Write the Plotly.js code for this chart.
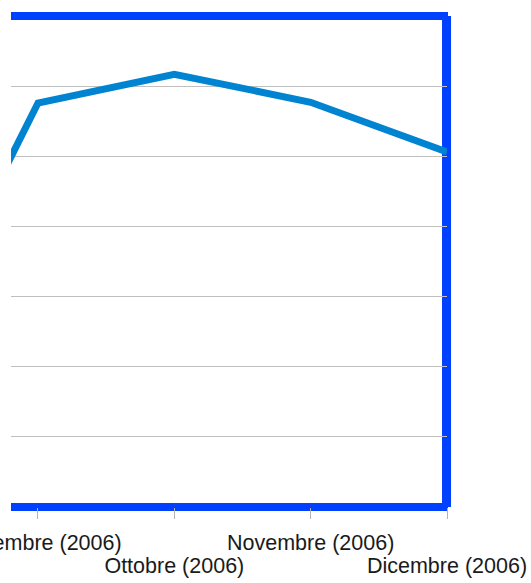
<!DOCTYPE html>
<html>
<head>
<meta charset="utf-8">
<script src="https://cdn.plot.ly/plotly-3.0.1.min.js"></script>
<style>html,body{margin:0;padding:0;background:#fff;}#chart{width:531px;height:583px;}</style>
</head>
<body>
<div id="chart"></div>
<script>
const months = ["Agosto (2006)", "Settembre (2006)", "Ottobre (2006)", "Novembre (2006)", "Dicembre (2006)"];
const values = [18.8, 57.6, 61.7, 57.7, 50.6];
const row1Labels = ["Settembre (2006)", "Novembre (2006)"];
const row2Labels = ["Agosto (2006)", "Ottobre (2006)", "Dicembre (2006)"];

const border = '#0040ff';
const font = {family: 'Liberation Sans, Arial, sans-serif', size: 21.5, color: '#1a1a1a'};
const xr = [0.802, 4];

const data = [
  {x: months, y: values, type: 'scatter', mode: 'lines', xaxis: 'x', yaxis: 'y',
   line: {color: '#0084d1', width: 7}, hoverinfo: 'skip', showlegend: false},
  {x: months, y: months.map(() => null), type: 'scatter', mode: 'lines', xaxis: 'x2', yaxis: 'y',
   hoverinfo: 'skip', showlegend: false}
];

const layout = {
  width: 531, height: 583,
  margin: {l: 11, r: 84, t: 16, b: 76},
  paper_bgcolor: '#fff', plot_bgcolor: '#fff',
  showlegend: false,
  xaxis: {type: 'category', categoryarray: months, range: xr,
    tickmode: 'array', tickvals: [months[1], months[3]], ticktext: row1Labels,
    ticks: 'outside', ticklen: 11, tickcolor: '#b3b3b3', tickwidth: 1,
    ticklabelstandoff: 5,
    tickangle: 0, tickfont: font, showgrid: false, zeroline: false, showline: false},
  xaxis2: {type: 'category', categoryarray: months, range: xr, overlaying: 'x', anchor: 'y', side: 'bottom',
    tickmode: 'array', tickvals: [months[0], months[2], months[4]], ticktext: row2Labels,
    ticks: 'outside', ticklen: 11, tickcolor: '#b3b3b3', tickwidth: 1,
    ticklabelstandoff: 28,
    tickangle: 0, tickfont: font, showgrid: false, zeroline: false, showline: false},
  yaxis: {range: [0, 70], dtick: 10, showticklabels: false, ticks: '',
    showgrid: true, gridcolor: '#c0c0c0', gridwidth: 1, zeroline: false, showline: false},
  shapes: [
    {type: 'line', xref: 'paper', yref: 'paper', x0: 0, x1: 1.0023, y0: 1, y1: 1, layer: 'below', line: {color: border, width: 8}},
    {type: 'line', xref: 'paper', yref: 'paper', x0: 0, x1: 1.0023, y0: 0, y1: 0, layer: 'below', line: {color: border, width: 8}},
    {type: 'line', xref: 'paper', yref: 'paper', x0: 0.9989, x1: 0.9989, y0: 0, y1: 1, layer: 'below', line: {color: border, width: 9}}
  ]
};

Plotly.newPlot('chart', data, layout, {staticPlot: true, displayModeBar: false});
</script>
</body>
</html>
